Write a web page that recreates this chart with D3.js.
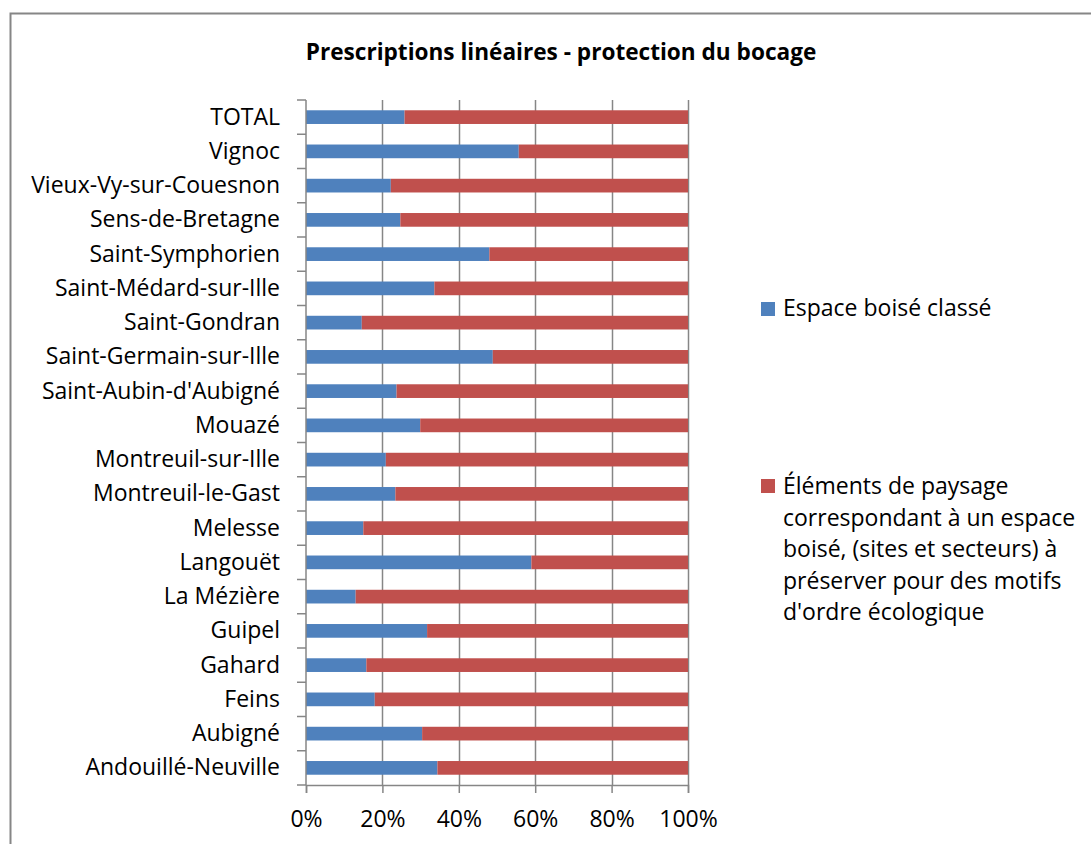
<!DOCTYPE html>
<html>
<head>
<meta charset="utf-8">
<script src="https://cdn.jsdelivr.net/npm/d3@7"></script>
<style>
  body { margin: 0; background: #fff; }
  svg { display: block; font-family: "Open Sans", sans-serif; }
</style>
</head>
<body>
<div id="chart"></div>
<script>
// communes, top to bottom as in the chart
const communes = [
    'TOTAL', 'Vignoc', 'Vieux-Vy-sur-Couesnon', 'Sens-de-Bretagne', 'Saint-Symphorien',
    'Saint-Médard-sur-Ille', 'Saint-Gondran', 'Saint-Germain-sur-Ille', "Saint-Aubin-d'Aubigné",
    'Mouazé', 'Montreuil-sur-Ille', 'Montreuil-le-Gast', 'Melesse', 'Langouët', 'La Mézière',
    'Guipel', 'Gahard', 'Feins', 'Aubigné', 'Andouillé-Neuville'
];

// share (%) of each prescription type
const espaceBoise = [25.8, 55.7, 22.2, 24.7, 48.0, 33.6, 14.6, 48.9, 23.7, 29.9,
                     20.9, 23.4, 15.0, 59.0, 13.0, 31.7, 15.8, 18.0, 30.4, 34.4];
const elementsPaysage = [74.2, 44.3, 77.8, 75.3, 52.0, 66.4, 85.4, 51.1, 76.3, 70.1,
                         79.1, 76.6, 85.0, 41.0, 87.0, 68.3, 84.2, 82.0, 69.6, 65.6];

const seriesNames = ['Espace boisé classé',
    "Éléments de paysage correspondant à un espace boisé, (sites et secteurs) à préserver pour des motifs d'ordre écologique"];
const legendLines = ['Éléments de paysage', 'correspondant à un espace', 'boisé, (sites et secteurs) à',
                     'préserver pour des motifs', "d'ordre écologique"];
const colors = ['#4F81BD', '#C0504D'];
const xTicks = [0, 20, 40, 60, 80, 100];

const width = 1091, height = 844;
const plot = { left: 306, right: 688, top: 100, bottom: 785 };
const grey = '#868686';
const fontSize = 23;

const svg = d3.select('#chart').append('svg')
    .attr('width', width)
    .attr('height', height);

svg.append('rect').attr('width', width).attr('height', height).attr('fill', '#fff');

// chart frame (runs off the right and bottom edges)
svg.append('rect')
    .attr('x', 10.5).attr('y', 13.5)
    .attr('width', 1200).attr('height', 1000)
    .attr('fill', 'none')
    .attr('stroke', grey)
    .attr('stroke-width', 2);

svg.append('text')
    .attr('x', 561).attr('y', 60)
    .attr('text-anchor', 'middle')
    .attr('font-weight', 'bold')
    .attr('font-size', 22.6)
    .attr('fill', '#000')
    .text('Prescriptions linéaires - protection du bocage');

const x = d3.scaleLinear().domain([0, 100]).range([plot.left, plot.right]);
const y = d3.scaleBand().domain(communes).range([plot.top, plot.bottom])
    .paddingInner(0.6).paddingOuter(0.3);

// gridlines
svg.append('g')
    .selectAll('line')
    .data(xTicks.slice(1))
    .join('line')
    .attr('x1', d => Math.round(x(d)) + 0.5).attr('x2', d => Math.round(x(d)) + 0.5)
    .attr('y1', plot.top).attr('y2', plot.bottom)
    .attr('stroke', grey)
    .attr('stroke-width', 1.5);

// stacked bars
const rows = communes.map((c, i) => ({ commune: c, values: [espaceBoise[i], elementsPaysage[i]] }));
const stack = d3.stack().keys([0, 1]).value((d, k) => d.values[k]);
const layers = stack(rows);

svg.append('g')
    .selectAll('g')
    .data(layers)
    .join('g')
    .attr('fill', (d, i) => colors[i])
    .selectAll('rect')
    .data(d => d)
    .join('rect')
    .attr('x', d => x(d[0]))
    .attr('width', d => x(d[1]) - x(d[0]))
    .attr('y', d => y(d.data.commune))
    .attr('height', y.bandwidth());

// left axis: labels centred on bars, ticks between categories
const yAxis = svg.append('g')
    .attr('transform', `translate(${plot.left},0)`)
    .call(d3.axisLeft(y).tickSize(0).tickPadding(26));
yAxis.select('.domain').remove();
yAxis.selectAll('text')
    .attr('font-size', fontSize)
    .attr('font-family', '"Open Sans", sans-serif')
    .attr('fill', '#000');

const boundaries = d3.range(communes.length + 1).map(i => plot.top + i * y.step());
svg.append('g')
    .selectAll('line')
    .data(boundaries)
    .join('line')
    .attr('x1', plot.left - 9).attr('x2', plot.left)
    .attr('y1', d => d).attr('y2', d => d)
    .attr('stroke', grey)
    .attr('stroke-width', 1.5);
svg.append('line')
    .attr('x1', plot.left).attr('x2', plot.left)
    .attr('y1', plot.top).attr('y2', plot.bottom)
    .attr('stroke', grey)
    .attr('stroke-width', 1.5);

// bottom axis
const xAxis = svg.append('g')
    .attr('transform', `translate(0,${plot.bottom})`)
    .call(d3.axisBottom(x).tickValues(xTicks).tickFormat(d => d + '%').tickSize(8).tickPadding(18));
xAxis.selectAll('line, path').attr('stroke', grey).attr('stroke-width', 1.5);
xAxis.selectAll('text')
    .attr('font-size', fontSize)
    .attr('font-family', '"Open Sans", sans-serif')
    .attr('fill', '#000');

// legend
const legend = svg.append('g');
legend.append('rect')
    .attr('x', 761).attr('y', 302).attr('width', 14).attr('height', 14)
    .attr('fill', colors[0]);
legend.append('text')
    .attr('x', 783).attr('y', 316)
    .attr('font-size', fontSize)
    .text(seriesNames[0]);

legend.append('rect')
    .attr('x', 761).attr('y', 479).attr('width', 14).attr('height', 14)
    .attr('fill', colors[1]);
legend.append('text')
    .attr('font-size', fontSize)
    .selectAll('tspan')
    .data(legendLines)
    .join('tspan')
    .attr('x', 783)
    .attr('y', (d, i) => 494 + i * 31.5)
    .text(d => d);
</script>
</body>
</html>
